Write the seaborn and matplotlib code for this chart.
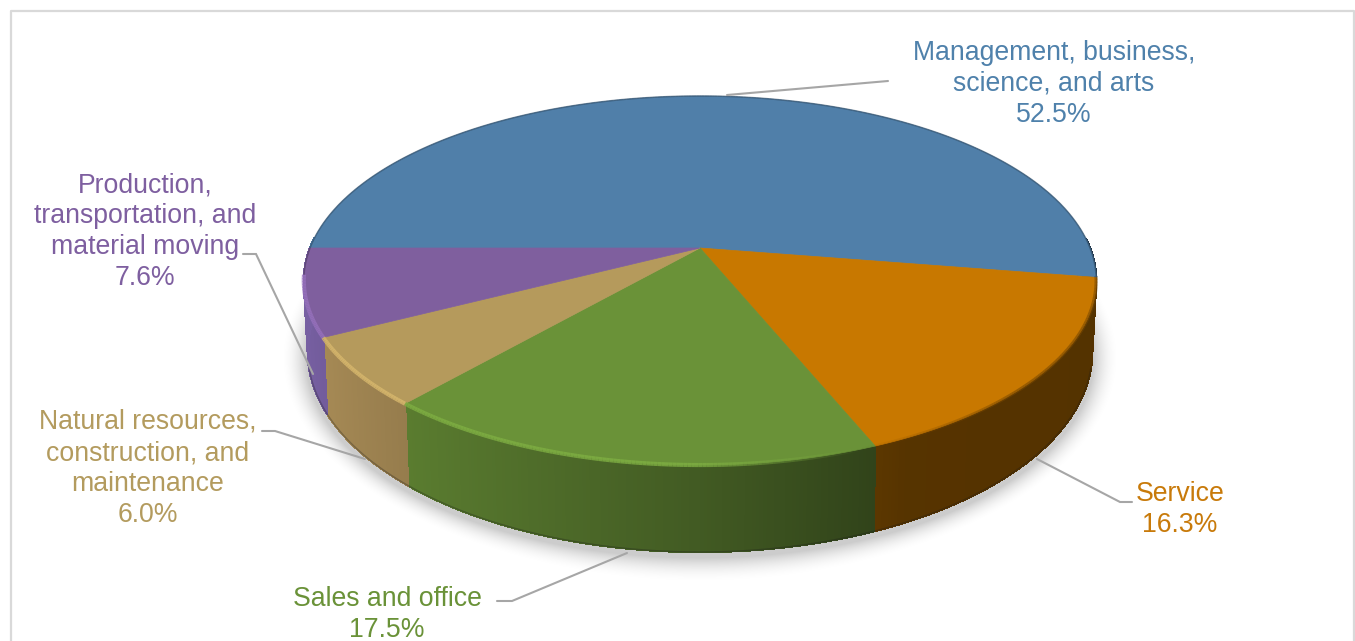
import numpy as np
import matplotlib
matplotlib.use('Agg')
import matplotlib.pyplot as plt
from matplotlib.collections import PolyCollection, LineCollection
from matplotlib.colors import to_rgb
import seaborn as sns

categories = ['Management, business,\nscience, and arts', 'Service', 'Sales and office',
              'Natural resources,\nconstruction, and\nmaintenance',
              'Production,\ntransportation, and\nmaterial moving']
shares = [52.5, 16.3, 17.5, 6.0, 7.6]
top_colors = ['#507fa9', '#c87800', '#6a9238', '#b59a5c', '#7f5f9e']
wall_colors = ['#507fa9', '#c87800', '#6a9238', '#b0925a', '#7a62a6']
text_colors = ['#4f81ab', '#c87a0a', '#6a9238', '#b39b5e', '#7e5fa0']

sns.set_theme(style='white')
plt.rcParams['font.family'] = ['Liberation Sans', 'DejaVu Sans']
palette = sns.color_palette(top_colors)

W, H = 1355, 641
fig = plt.figure(figsize=(W / 100, H / 100), dpi=100)
ax = fig.add_axes([0, 0, 1, 1])

# perspective of the tilted disc, fitted on the reference in pixels
CX, TILT = 700, 0.1762
TOP = (390, -135.1, 248)
BOTTOM = (386, -137.9, 316.8)


def project(t, rim):
    u, v = np.cos(t), np.sin(t)
    den = 1 + TILT * v
    return CX + rim[0] * u / den, (rim[1] * v + rim[2]) / den


def side_shade(u):
    return np.interp(u, [-1, -0.65, 0, 0.45, 1], [0.98, 0.85, 0.62, 0.43, 0.42])


# soft shadow under the pie
gx, gy = np.meshgrid(np.arange(W) + 0.5, np.arange(H) + 0.5)
dx, dy = (gx - CX) / 394, (gy - 358) / 200
rho = np.maximum(np.hypot(dx, dy), 1e-6)
dist = (rho - 1) * np.hypot(gx - CX, gy - 358) / rho
shadow = np.zeros((H, W, 4))
shadow[..., 3] = 0.2 * np.clip(1 - dist / 26, 0, 1) ** 2
ax.imshow(shadow, extent=(0, W, H, 0), interpolation='bilinear', zorder=1)

starts = 180 - np.cumsum([0] + shares[:-1]) / sum(shares) * 360
ends = 180 - np.cumsum(shares) / sum(shares) * 360

for i, share in enumerate(shares):
    t = np.radians(np.linspace(starts[i], ends[i], max(int(share * 8), 20)))
    base = np.array(to_rgb(wall_colors[i]))
    tx, ty = project(t, TOP)
    bx, by = project(t, BOTTOM)

    # side wall, shaded strip by strip
    quads, shades = [], []
    for j in range(len(t) - 1):
        if np.sin(t[j]) > 0.05 and np.sin(t[j + 1]) > 0.05:
            continue
        quads.append([(tx[j], ty[j]), (tx[j + 1], ty[j + 1]), (bx[j + 1], by[j + 1]), (bx[j], by[j])])
        shades.append(base * side_shade(np.cos(t[j])))
    if quads:
        ax.add_collection(PolyCollection(quads, facecolors=shades, edgecolors=shades,
                                         linewidths=1.0, antialiaseds=False, zorder=2))
        # dark line along the foot of the wall, not on the silhouette ends
        foot = [[(bx[j], by[j]), (bx[j + 1], by[j + 1])] for j in range(len(t) - 1)
                if np.sin(t[j]) < -0.25]
        if foot:
            ax.add_collection(LineCollection(foot, colors=[(0.1, 0.1, 0.1, 0.3)], linewidths=1, zorder=3))

for i, share in enumerate(shares):
    t = np.radians(np.linspace(starts[i], ends[i], max(int(share * 8), 20)))
    base = np.array(to_rgb(palette[i]))
    tx, ty = project(t, TOP)
    ax.fill(np.r_[CX, tx], np.r_[TOP[2], ty], color=base, lw=0.5, zorder=4)

    # rim: light on the front left, dark on the right and at the back
    segs, cols, widths = [], [], []
    for j in range(len(t) - 1):
        u, v = np.cos(t[j]), np.sin(t[j])
        if v > -0.15:
            c = (*(base * 0.55), 0.55)
            lw = 1.1
        elif u < 0.35:
            c = (*np.minimum(base * 1.2, 1), np.clip((0.35 - u) * 2.2, 0, 0.8))
            lw = 3.0
        else:
            c = (*(base * 0.6), np.clip((u - 0.35) * 1.6, 0, 0.6))
            lw = 2.4
        segs.append([(tx[j], ty[j]), (tx[j + 1], ty[j + 1])])
        cols.append(c)
        widths.append(lw)
    ax.add_collection(LineCollection(segs, colors=cols, linewidths=widths, zorder=5))

# leader lines
leader_x = [[727, 888], [1037, 1120, 1132], [627, 512, 497], [365, 275, 262], [313, 256, 243]]
leader_y = [[95, 81], [459, 502, 502], [553, 601, 601], [459, 431, 431], [374, 254, 254]]
for xs, ys in zip(leader_x, leader_y):
    ax.plot(xs, ys, color='#a6a6a6', lw=1.5, zorder=6, solid_joinstyle='miter')

# labels, one line every 31 px; the lowest one sits right on the image edge
label_x = [1054, 1180, 387, 148, 145]
label_y = [53, 494, 599.5, 422, 185]
for i, name in enumerate(categories):
    lines = name.split('\n') + [f'{shares[i]:.1f}%']
    for k, line in enumerate(lines):
        ax.text(label_x[i], label_y[i] + (30.5 if i == 2 else 31) * k, line, color=text_colors[i],
                fontsize=19.2, ha='center', va='center', zorder=7)

# chart frame, its bottom edge falls outside the crop
ax.plot([11, 11, 1353.5, 1353.5], [H + 5, 11, 11, H + 5], color='#d9d9d9', lw=1.6, zorder=0)

ax.set_xlim(0, W)
ax.set_ylim(H, 0)
ax.axis('off')
fig.savefig('out.png', dpi=100, facecolor='white')
